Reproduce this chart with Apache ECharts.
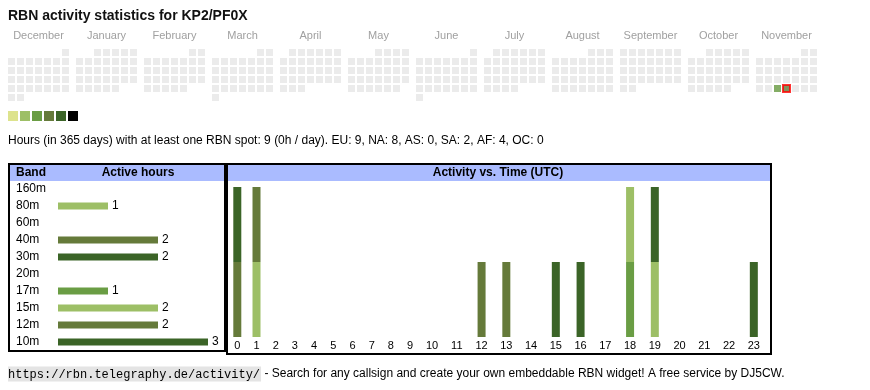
<!DOCTYPE html>
<html><head><meta charset="utf-8">
<script src="https://cdn.jsdelivr.net/npm/echarts@6/dist/echarts.min.js"></script>
<style>html,body{margin:0;padding:0;background:#fff}#c{width:870px;height:390px}</style>
</head><body><div id="c"></div>
<script>
// ---- data ----
const titleText = 'RBN activity statistics for KP2/PF0X';
const summaryText = 'Hours (in 365 days) with at least one RBN spot: 9 (0h / day). EU: 9, NA: 8, AS: 0, SA: 2, AF: 4, OC: 0';
const monthKeys = ['2024-12','2025-01','2025-02','2025-03','2025-04','2025-05','2025-06','2025-07','2025-08','2025-09','2025-10','2025-11'];
const monthNames = ['December','January','February','March','April','May','June','July','August','September','October','November'];
const activeDays = ['2025-11-26', '2025-11-27'];
const activeDayLevels = [3, 4];
const todayDate = '2025-11-27';
const levelColors = ['#dde38d', '#9dbf66', '#6a9d44', '#657a3a', '#3b6427', '#000000'];

const bands = ['160m','80m','60m','40m','30m','20m','17m','15m','12m','10m'];
const bandHours = [0, 1, 0, 2, 2, 0, 1, 2, 2, 3];
const bandColors = ['#9dbf66','#9dbf66','#6a9d44','#657a3a','#3b6427','#9dbf66','#6a9d44','#9dbf66','#657a3a','#3b6427'];

const hourLabels = ['0','1','2','3','4','5','6','7','8','9','10','11','12','13','14','15','16','17','18','19','20','21','22','23'];
// bands in stacking order (bottom -> top) with the UTC hours they were active
const stackBands = ['10m','12m','15m','17m','30m','40m','80m'];
const stackBandHours = [[15,16,23],[0,12],[1,19],[18],[0,19],[1,13],[18]];

const footerUrl = 'https://rbn.telegraphy.de/activity/';
const footerText = ' - Search for any callsign and create your own embeddable RBN widget! A free service by DJ5CW.';

// ---- layout: hour columns are sized by their label like an auto-width table ----
const hourDigitWidth = 5.55, hourCellPadding = 13.65;
const hourCenters = [];
let hourTotal = 0;
hourLabels.forEach(h => {
  const w = hourCellPadding + h.length * hourDigitWidth;
  hourCenters.push(hourTotal + w / 2);
  hourTotal += w;
});

// ---- chart ----
const FONT = 'Arial, "Liberation Sans", sans-serif';
const chart = echarts.init(document.getElementById('c'), null, {renderer: 'canvas'});

const calendars = monthKeys.map((m, i) => ({
  orient: 'vertical',
  left: 7 + 68 * i,
  top: 48,
  cellSize: [9, 9],
  range: m,
  dayLabel: {show: false, firstDay: 1},
  monthLabel: {show: false},
  yearLabel: {show: true, position: 'top', formatter: monthNames[i], margin: 7,
    color: '#a0a0a0', fontSize: 11, fontFamily: FONT, fontWeight: 'normal'},
  splitLine: {show: false},
  itemStyle: {color: '#ebebeb', borderColor: '#ffffff', borderWidth: 2}
}));

const calSeries = {
  type: 'scatter',
  coordinateSystem: 'calendar',
  calendarIndex: 11,
  symbol: 'rect',
  symbolSize: 7,
  silent: true,
  data: activeDays.map((d, i) => {
    const item = {value: [d, activeDayLevels[i]]};
    if (d === todayDate) { item.itemStyle = {borderColor: '#ff0000', borderWidth: 2}; }
    return item;
  })
};

// value first so that it is the stacked dimension; x = hour column centre
const hourSeries = stackBands.map((b, k) => ({
  name: b,
  type: 'bar',
  stack: 'hours',
  xAxisIndex: 1, yAxisIndex: 1,
  barWidth: 8,
  silent: true,
  encode: {x: 1, y: 0},
  itemStyle: {color: bandColors[bands.indexOf(b)]},
  data: hourLabels.map((h, i) => [stackBandHours[k].indexOf(i) >= 0 ? 1 : 0, hourCenters[i]])
}));

const option = {
  backgroundColor: '#ffffff',
  animation: false,
  calendar: calendars,
  visualMap: {
    type: 'piecewise',
    seriesIndex: 0,
    dimension: 1,
    orient: 'horizontal',
    left: -7, top: 96,
    itemWidth: 10, itemHeight: 10, itemGap: 2,
    itemSymbol: 'rect',
    showLabel: false,
    selectedMode: false,
    pieces: levelColors.map((c, i) => ({value: i + 1, color: c}))
  },
  grid: [
    {left: 58, top: 180.5, width: 150, height: 170},
    {left: 227.7, top: 187, width: hourTotal, height: 150}
  ],
  xAxis: [
    {gridIndex: 0, type: 'value', min: 0, max: 3, show: false},
    {gridIndex: 1, type: 'value', min: 0, max: hourTotal,
      axisLine: {show: false}, axisTick: {show: false}, splitLine: {show: false},
      axisLabel: {color: '#000', fontSize: 11, fontFamily: FONT, margin: 3,
        customValues: hourCenters,
        formatter: v => {
          let best = 0;
          hourCenters.forEach((c, i) => { if (Math.abs(c - v) < Math.abs(hourCenters[best] - v)) best = i; });
          return hourLabels[best];
        }}}
  ],
  yAxis: [
    {gridIndex: 0, type: 'category', data: bands, inverse: true,
      axisLine: {show: false}, axisTick: {show: false},
      axisLabel: {color: '#000', fontSize: 12, fontFamily: FONT, align: 'left', margin: 42}},
    {gridIndex: 1, type: 'value', min: 0, max: 2, show: false}
  ],
  series: [
    calSeries,
    {
      type: 'bar', xAxisIndex: 0, yAxisIndex: 0, barWidth: 7, silent: true,
      data: bandHours.map((v, i) => ({value: v, itemStyle: {color: bandColors[i]}})),
      label: {show: true, position: 'right', distance: 4, color: '#000', fontSize: 12, fontFamily: FONT,
        formatter: p => (p.value ? String(p.value) : '')}
    }
  ].concat(hourSeries),
  graphic: [
    {type: 'text', left: 8, top: 9, style: {text: titleText, font: 'bold 14px ' + FONT, fill: '#111'}},
    {type: 'text', left: 8, top: 135, style: {text: summaryText, font: '12px ' + FONT, fill: '#000'}},
    {type: 'rect', shape: {x: 10, y: 165, width: 214, height: 16}, style: {fill: '#aabbff'}, silent: true},
    {type: 'rect', shape: {x: 228, y: 165, width: 542, height: 16}, style: {fill: '#aabbff'}, silent: true},
    {type: 'rect', shape: {x: 9, y: 164, width: 216, height: 187}, style: {fill: 'none', stroke: '#000', lineWidth: 2}, silent: true},
    {type: 'rect', shape: {x: 227, y: 164, width: 544, height: 190}, style: {fill: 'none', stroke: '#000', lineWidth: 2}, silent: true},
    {type: 'text', x: 16, y: 173, style: {text: 'Band', font: 'bold 12px ' + FONT, fill: '#000', verticalAlign: 'middle'}},
    {type: 'text', x: 138, y: 173, style: {text: 'Active hours', font: 'bold 12px ' + FONT, fill: '#000', align: 'center', verticalAlign: 'middle'}},
    {type: 'text', x: 498, y: 173, style: {text: 'Activity vs. Time (UTC)', font: 'bold 12px ' + FONT, fill: '#000', align: 'center', verticalAlign: 'middle'}},
    {type: 'text', x: 8, y: 374, style: {
      text: '{u|' + footerUrl + '}{t|' + footerText + '}',
      verticalAlign: 'middle',
      rich: {
        u: {fontFamily: '"Liberation Mono", "DejaVu Sans Mono", monospace', fontSize: 12, color: '#333', backgroundColor: '#e4e4e4', padding: [2, 1, 1, 0]},
        t: {fontFamily: FONT, fontSize: 12, color: '#000'}
      }
    }}
  ]
};
chart.setOption(option);
</script>
</body></html>
